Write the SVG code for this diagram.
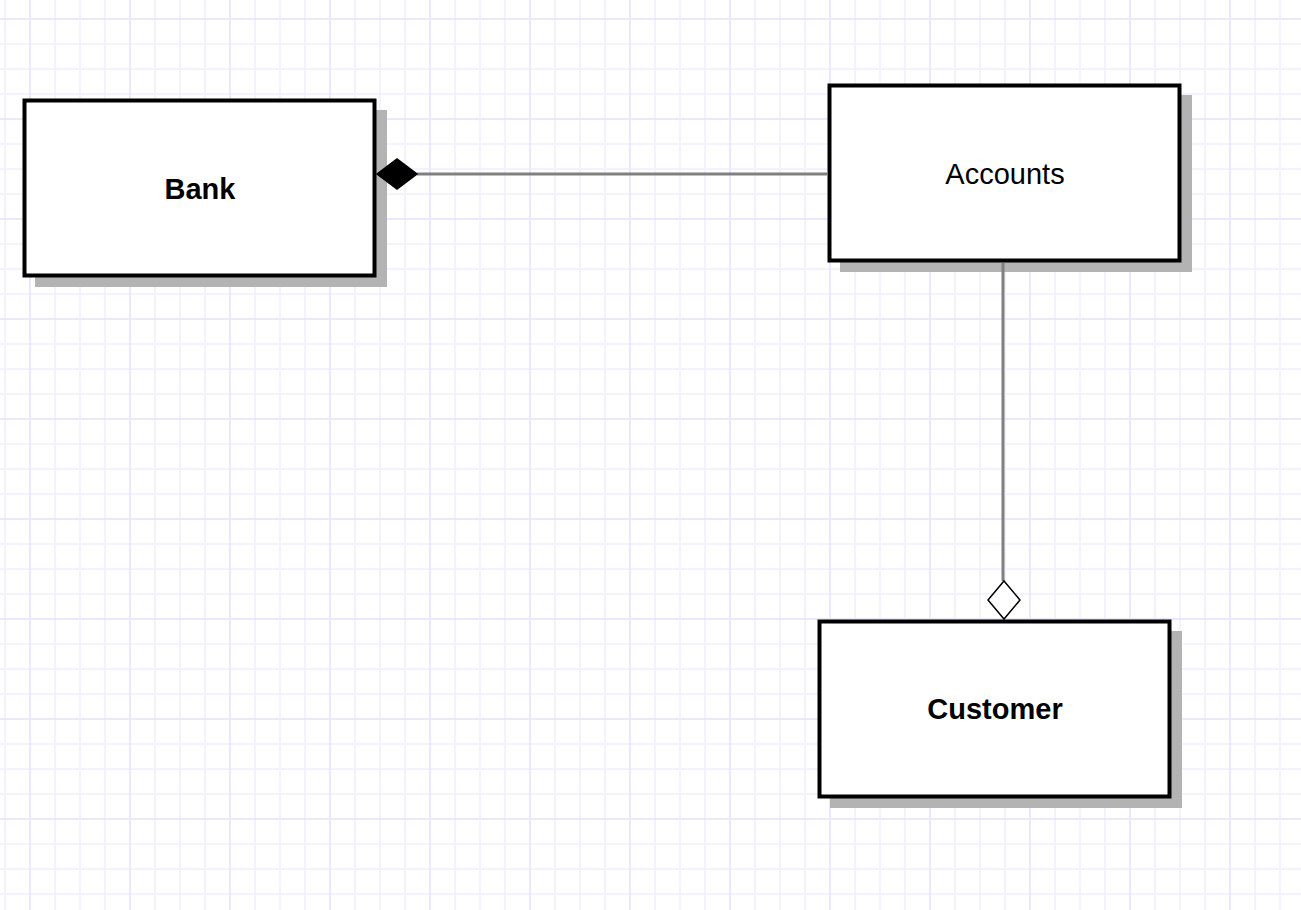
<svg xmlns="http://www.w3.org/2000/svg" width="1301" height="910" viewBox="0 0 1301 910">
<defs>
<pattern id="minor" x="4" y="18" width="25" height="25" patternUnits="userSpaceOnUse">
<path d="M1 0V25M0 1H25" fill="none" stroke="#f3f2fe" stroke-width="2"/>
</pattern>
<pattern id="major" x="29" y="18" width="100" height="100" patternUnits="userSpaceOnUse">
<path d="M1 0V100M0 1H100" fill="none" stroke="#eae8fc" stroke-width="2"/>
</pattern>
</defs>
<style>
.box{fill:#fff;stroke:#000;stroke-width:4}
.shadow{fill:#b3b3b3}
.lbl{font-family:"Liberation Sans",Arial,sans-serif;font-size:29px;text-anchor:middle;dominant-baseline:central;fill:#000}
.b{font-weight:bold}
.conn{stroke:#808080;stroke-width:3;fill:none}
</style>
<rect width="1301" height="910" fill="#fff"/>
<rect width="1301" height="910" fill="url(#minor)"/>
<rect width="1301" height="910" fill="url(#major)"/>
<g id="bank">
<rect class="shadow" x="35" y="110" width="352" height="177"/>
<rect class="box" x="24.5" y="100.5" width="350" height="175"/>
<text class="lbl b" x="200" y="189">Bank</text>
</g>
<g id="accounts">
<rect class="shadow" x="840" y="95" width="352" height="177"/>
<rect class="box" x="829.5" y="85.5" width="350" height="175"/>
<text class="lbl" x="1005" y="174">Accounts</text>
</g>
<g id="customer">
<rect class="shadow" x="830" y="631" width="352" height="177"/>
<rect class="box" x="819.5" y="621.5" width="350" height="175"/>
<text class="lbl b" x="995" y="709">Customer</text>
</g>
<g id="connectors">
<path class="conn" d="M417 174H828"/>
<path d="M377 174L397 159L417 174L397 189Z" fill="#000" stroke="#000" stroke-width="1.5"/>
<path class="conn" d="M1003 263V581"/>
<path d="M1004 581L1020 600L1004 619L988 600Z" fill="#fff" stroke="#000" stroke-width="1.5"/>
</g>
</svg>
